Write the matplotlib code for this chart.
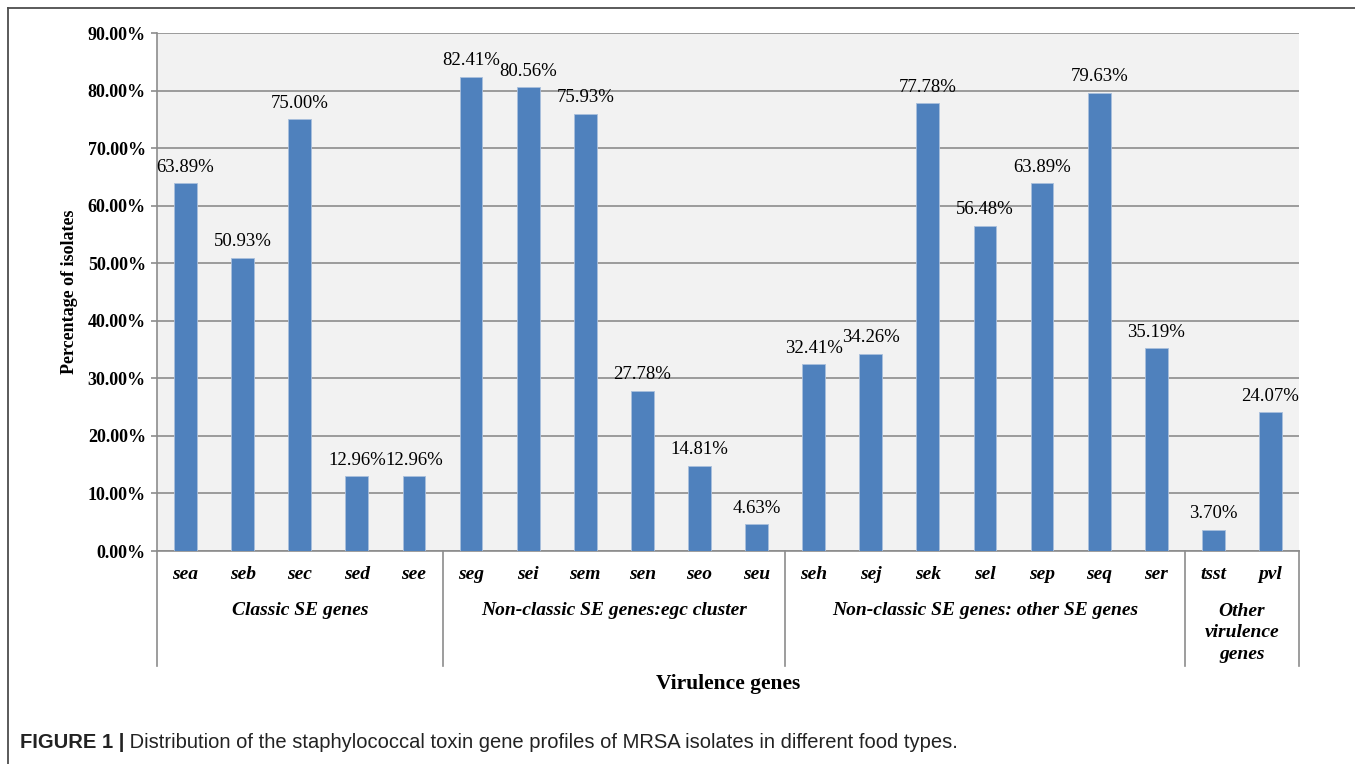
import numpy as np
import matplotlib.pyplot as plt
from matplotlib.lines import Line2D

# gene names and percentage of isolates carrying each gene
genes = ['sea', 'seb', 'sec', 'sed', 'see',
         'seg', 'sei', 'sem', 'sen', 'seo', 'seu',
         'seh', 'sej', 'sek', 'sel', 'sep', 'seq', 'ser',
         'tsst', 'pvl']
percent = [63.89, 50.93, 75.00, 12.96, 12.96,
           82.41, 80.56, 75.93, 27.78, 14.81, 4.63,
           32.41, 34.26, 77.78, 56.48, 63.89, 79.63, 35.19,
           3.70, 24.07]

# groups: label and how many genes fall in each
group_names = ['Classic SE genes', 'Non-classic SE genes:egc cluster',
               'Non-classic SE genes: other SE genes', 'Other\nvirulence\ngenes']
group_sizes = [5, 6, 7, 2]

yticks = [0, 10, 20, 30, 40, 50, 60, 70, 80, 90]

bar_color = '#4f81bd'
grid_color = '#8c8c8c'
serif = 'Liberation Serif'
sans = 'Liberation Sans'

W, H = 1355, 764
fig = plt.figure(figsize=(W / 100, H / 100), dpi=100)
ax = fig.add_axes([157 / W, 1 - 551 / H, (1299 - 157) / W, (551 - 33) / H])
ax.set_facecolor('#f2f2f2')

x = np.arange(len(genes))
ax.bar(x, percent, width=0.40, color=bar_color, edgecolor='#a9bfdc', linewidth=0.6, zorder=3)

for xi, v in zip(x, percent):
    ax.annotate('%.2f%%' % v, (xi, v), xytext=(0, 5.5), textcoords='offset points',
                ha='center', va='bottom', fontsize=13.5, family=serif, zorder=4)

ax.set_xlim(-0.5, len(genes) - 0.5)
ax.set_ylim(0, 90)
ax.set_yticks(yticks)
ax.set_yticklabels(['%.2f%%' % t for t in yticks], family=serif, fontweight='bold', fontsize=13)
ax.yaxis.grid(True, color=grid_color, linewidth=1.2, zorder=1)
ax.tick_params(axis='y', length=4, width=1.2, color=grid_color, pad=4)
ax.set_xticks([])

for s in ['top', 'right']:
    ax.spines[s].set_visible(False)
for s in ['left', 'bottom']:
    ax.spines[s].set_color(grid_color)
    ax.spines[s].set_linewidth(1.2)

# gene labels, group labels, and separators below the axis
trans = ax.get_xaxis_transform()
for xi, g in zip(x, genes):
    ax.text(xi, -0.046, g, transform=trans, ha='center', va='center',
            family=serif, fontweight='bold', style='italic', fontsize=14)

bounds = np.concatenate([[0], np.cumsum(group_sizes)]) - 0.5
for b in bounds:
    ax.add_line(Line2D([b, b], [0, -0.222], transform=trans, color=grid_color,
                       linewidth=1.2, clip_on=False))
for i, name in enumerate(group_names):
    mid = (bounds[i] + bounds[i + 1]) / 2
    ypos = -0.158 if '\n' in name else -0.1158
    ax.text(mid, ypos, name, transform=trans, ha='center', va='center',
            multialignment='center', family=serif, fontweight='bold', style='italic',
            fontsize=14, linespacing=1.33)

ax.set_ylabel('Percentage of isolates', family=serif, fontweight='bold', fontsize=13, labelpad=7)
fig.text(728 / W, 1 - 684 / H, 'Virulence genes', ha='center', va='center',
         family=serif, fontweight='bold', fontsize=15.5)

# caption
t1 = fig.text(20 / W, 1 - 742 / H, 'FIGURE 1 |', ha='left', va='center',
              family=sans, fontweight='bold', fontsize=14.5, color='#222222')
ax.annotate(' Distribution of the staphylococcal toxin gene profiles of MRSA isolates in different food types.',
            xy=(1, 0.5), xycoords=t1, ha='left', va='center', family=sans, fontsize=14.5,
            color='#222222', annotation_clip=False)

# partial frame around the figure panel
fig.add_artist(Line2D([8 / W, 1], [1 - 8 / H, 1 - 8 / H], transform=fig.transFigure,
                      color='#4d4d4d', linewidth=1.3))
fig.add_artist(Line2D([8 / W, 8 / W], [0, 1 - 8 / H], transform=fig.transFigure,
                      color='#4d4d4d', linewidth=1.3))

fig.savefig('out.png', dpi=100)
